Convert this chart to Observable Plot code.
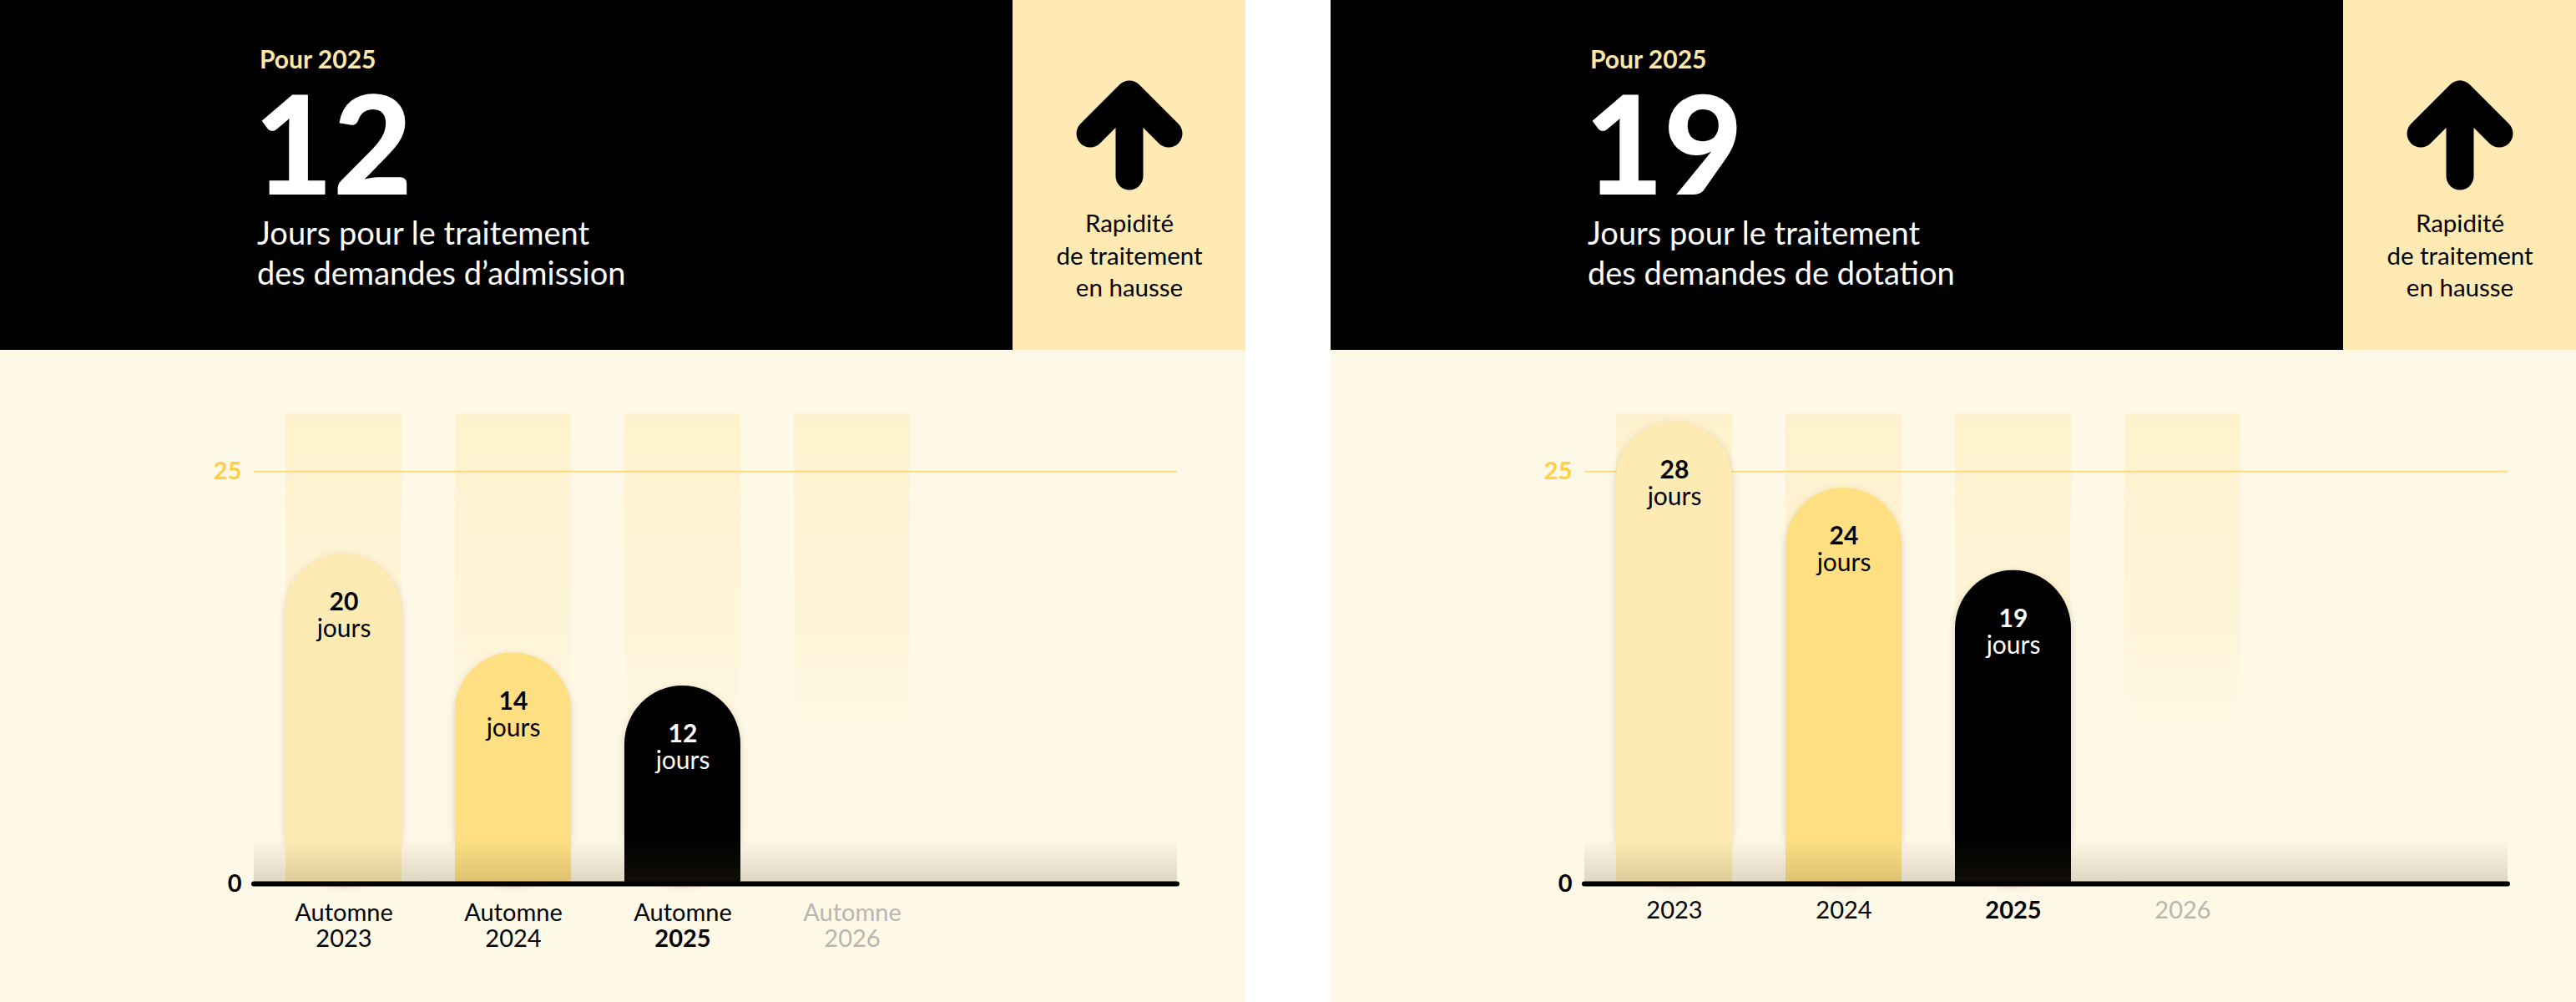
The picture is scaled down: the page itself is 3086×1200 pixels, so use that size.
<!DOCTYPE html>
<html><head><meta charset="utf-8">
<script src="https://cdn.jsdelivr.net/npm/d3@7"></script>
<script src="https://cdn.jsdelivr.net/npm/@observablehq/plot@0.6"></script>
<style>
body{margin:0;background:#fff;width:3086px;height:1200px;overflow:hidden;font-family:Lato,"Open Sans",sans-serif;}
.panel{position:absolute;top:0;width:1492px;height:1200px;background:#FEF8E6;}
.panel svg{display:block;}
.hdr{position:relative;width:1492px;height:419px;}
.t{position:absolute;white-space:nowrap;font-family:Lato,"Open Sans",sans-serif;}
</style></head><body>
<svg width="0" height="0" style="position:absolute">
<defs>
<linearGradient id="colGrad" x1="0" y1="0" x2="0" y2="1">
 <stop offset="0" stop-color="#FEE49A" stop-opacity="0.32"/>
 <stop offset="0.4" stop-color="#FEE49A" stop-opacity="0.2"/>
 <stop offset="0.72" stop-color="#FEE49A" stop-opacity="0"/>
</linearGradient>
<linearGradient id="shade" x1="0" y1="0" x2="0" y2="1">
 <stop offset="0" stop-color="#5A4B28" stop-opacity="0"/>
 <stop offset="1" stop-color="#5A4B28" stop-opacity="0.2"/>
</linearGradient>
</defs></svg>
<div id="p1" class="panel" style="left:0"></div>
<div id="p2" class="panel" style="left:1594px"></div>
<script>
// ---- data ----
const years = ["2023", "2024", "2025", "2026"];
const admissionDays = [20, 14, 12, null];
const dotationDays = [28, 24, 19, null];
const columnTop = [28.5, 28.5, 28.5, 28.5];
const yTicks = [0, 25];
const currentYear = "2025";
const futureYear = "2026";
const seasonLabel = "Automne";
const unitLabel = "jours";
const kicker = "Pour 2025";
const trendLines = ["Rapidité", "de traitement", "en hausse"];
const admissionTitle = ["Jours pour le traitement", "des demandes d’admission"];
const dotationTitle = ["Jours pour le traitement", "des demandes de dotation"];

const FONT = "Lato, 'Open Sans', sans-serif";
const barColor = {"2023": "#FEEBB4", "2024": "#FEDF82", "2025": "#000000"};

const ctx = document.createElement("canvas").getContext("2d");
// place an HTML text so that its baseline lands at `baseline`, with a tight line box
function htmlText(parent, str, {x, baseline, size, weight = 400, color, anchor = "start", lh}) {
  ctx.font = `${weight} ${size}px Lato`;
  const m = ctx.measureText(str);
  const A = m.fontBoundingBoxAscent ?? size * 0.99;
  const D = m.fontBoundingBoxDescent ?? size * 0.21;
  const L = lh ?? size;
  const top = baseline - A - (L - A - D) / 2;
  const el = document.createElement("div");
  el.className = "t";
  el.textContent = str;
  Object.assign(el.style, {top: top + "px", fontSize: size + "px", fontWeight: weight, color, lineHeight: L + "px", height: L + "px"});
  if (anchor === "middle") { el.style.left = (x - 200) + "px"; el.style.width = "400px"; el.style.textAlign = "center"; }
  else el.style.left = x + "px";
  parent.appendChild(el);
}

function header(bigNumber, titleLines) {
  const div = document.createElement("div");
  div.className = "hdr";
  const svg = d3.create("svg").attr("width", 1492).attr("height", 419).style("position", "absolute").style("left", 0).style("top", 0);
  svg.append("rect").attr("x", 0).attr("y", 0).attr("width", 1213).attr("height", 419).attr("fill", "#000");
  svg.append("rect").attr("x", 1213).attr("y", 0).attr("width", 279).attr("height", 419).attr("fill", "#FEEAB2");
  svg.append("path").attr("d", "M1306,160 L1353,113 L1400,160 M1353,113 V211")
    .attr("fill", "none").attr("stroke", "#000").attr("stroke-width", 33)
    .attr("stroke-linecap", "round").attr("stroke-linejoin", "round");
  div.appendChild(svg.node());
  htmlText(div, kicker, {x: 311, baseline: 82, size: 30, weight: 700, color: "#FEE7A6", lh: 24});
  htmlText(div, String(bigNumber), {x: 304, baseline: 233, size: 164, weight: 900, color: "#fff", lh: 124});
  titleLines.forEach((t, i) => htmlText(div, t, {x: 308, baseline: 293 + i * 48, size: 38, color: "#fff", lh: 40}));
  trendLines.forEach((t, i) => htmlText(div, t, {x: 1353, baseline: [278, 317, 355][i], size: 29.5, color: "#000", anchor: "middle", lh: 34}));
  return div;
}

function chart(values, withSeason) {
  const data = years.map((year, i) => ({year, value: values[i], top: columnTop[i]}));
  const bars = data.filter(d => d.value != null);
  const k = 19.75, y0 = 639;
  const txtFill = d => d.year === currentYear ? "#ffffff" : "#000000";
  const labelFill = d => d.year === futureYear ? "#B9B6B1" : "#000000";
  const yearDy = withSeason ? 66 : 32;
  const marks = [
    Plot.barY(data, {x: "year", y: "top", fill: "url(#colGrad)"}),
    Plot.ruleY([yTicks[1]], {stroke: "#FEDC7C", strokeWidth: 2}),
    Plot.barY(bars, {x: "year", y: "value", rx: 70, fill: d => barColor[d.year]}),
    Plot.barY(bars, {x: "year", y1: 0, y2: d => d.value - 4, fill: d => barColor[d.year]}),
    Plot.rectY([{a: 0, b: 2.75}], {y1: "a", y2: "b", fill: "url(#shade)"}),
    Plot.text(bars, {x: "year", y: "value", text: d => String(d.value), dy: 58, fontSize: 30, fontWeight: 700, fill: txtFill}),
    Plot.text(bars, {x: "year", y: "value", text: () => unitLabel, dy: 90, fontSize: 30, fill: txtFill}),
    Plot.text(yTicks, {y: d => d, text: d => String(d), frameAnchor: "left", textAnchor: "end", dx: -15, fontSize: 29, fontWeight: 700,
      fill: d => d === 0 ? "#000000" : "#FFCF40"}),
    Plot.text(data.filter(d => d.year !== currentYear), {x: "year", y: () => yTicks[0], text: "year", dy: yearDy, fontSize: 29, fill: labelFill}),
    Plot.text(data.filter(d => d.year === currentYear), {x: "year", y: () => yTicks[0], text: "year", dy: yearDy, fontSize: 29, fontWeight: 700, fill: labelFill}),
    Plot.ruleY([yTicks[0]], {stroke: "#000000", strokeWidth: 6, strokeLinecap: "round"})
  ];
  if (withSeason) {
    marks.push(Plot.text(data, {x: "year", y: () => yTicks[0], text: () => seasonLabel, dy: 35, fontSize: 29, fill: labelFill}));
  }
  const plot = Plot.plot({
    width: 1492, height: 781,
    marginLeft: 304, marginRight: 82, marginTop: 0, marginBottom: 0,
    style: {background: "transparent", fontFamily: FONT, overflow: "visible"},
    x: {type: "band", domain: years, range: [308, 1124], paddingInner: 0.3137, paddingOuter: 0.1569, axis: null},
    y: {domain: [0, 30], range: [y0, y0 - 30 * k], axis: null},
    color: {type: "identity"},
    marks
  });
  d3.select(plot).selectAll('g[aria-label="bar"]').filter((d, i) => i === 1)
    .style("filter", "drop-shadow(0px 3px 5px rgba(90,70,20,0.22))");
  return plot;
}

const p1 = document.getElementById("p1");
p1.appendChild(header(admissionDays[years.indexOf(currentYear)], admissionTitle));
p1.appendChild(chart(admissionDays, true));
const p2 = document.getElementById("p2");
p2.appendChild(header(dotationDays[years.indexOf(currentYear)], dotationTitle));
p2.appendChild(chart(dotationDays, false));
</script>
</body></html>
